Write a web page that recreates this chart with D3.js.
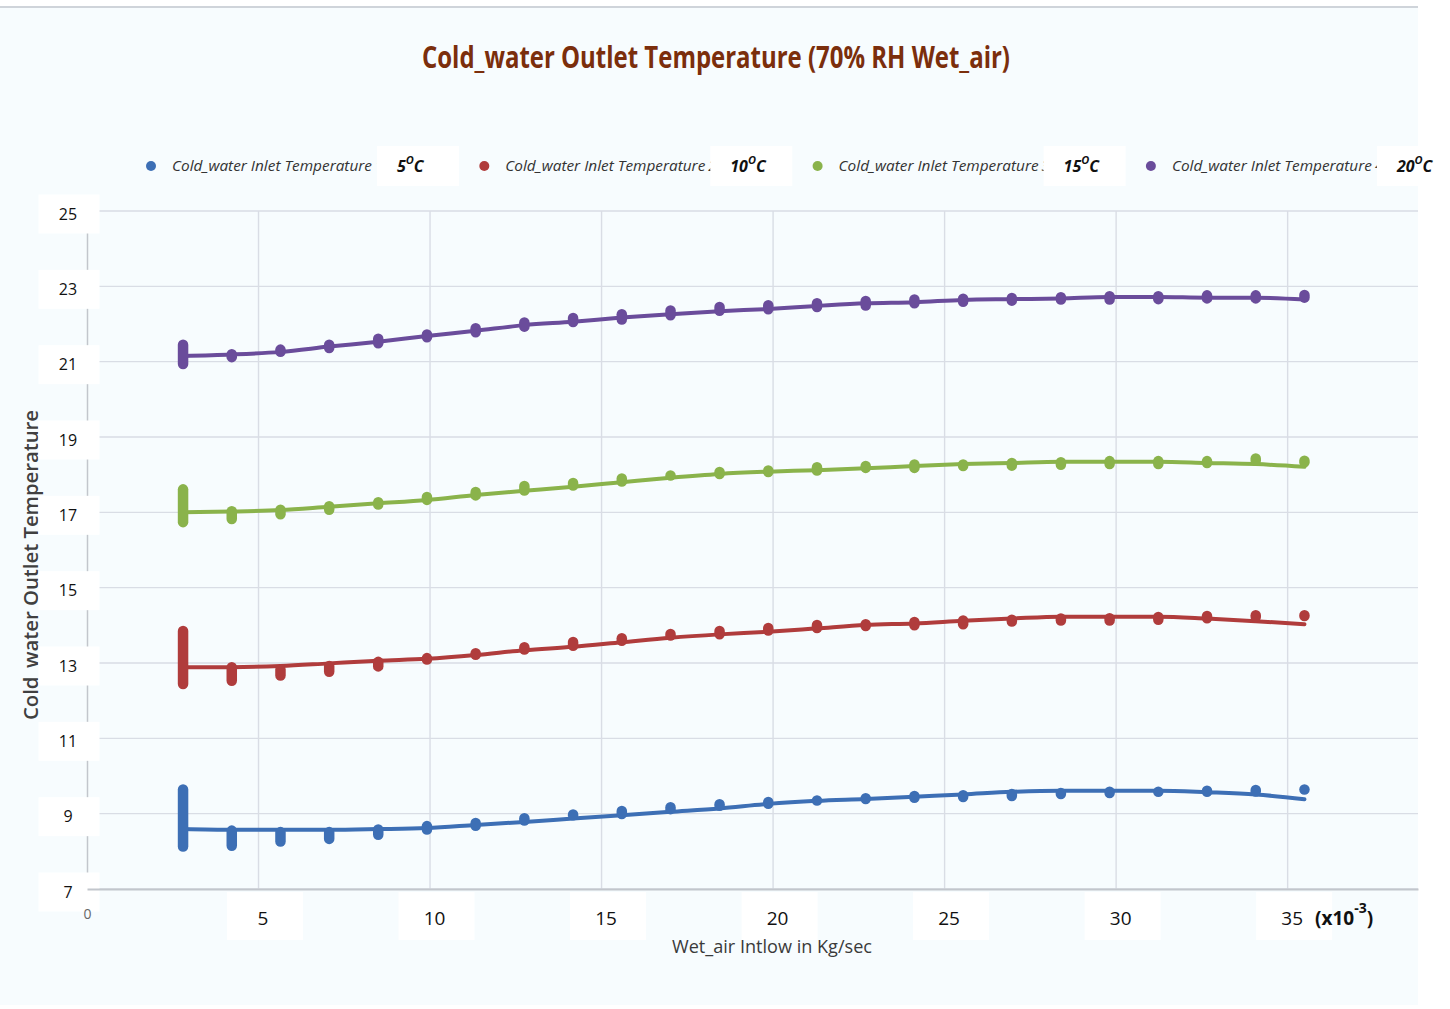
<!DOCTYPE html>
<html>
<head>
<meta charset="utf-8">
<script src="https://cdn.jsdelivr.net/npm/d3@7"></script>
<style>
  html, body { margin: 0; padding: 0; background: #ffffff; }
  svg { display: block; }
</style>
</head>
<body>
<svg id="chart" width="1450" height="1009"></svg>
<script>
// Wet air inflow (x10^-3 kg/s) at each measured step
const flowRate = [2.80, 4.22, 5.64, 7.06, 8.49, 9.91, 11.33, 12.75, 14.17, 15.59, 17.01, 18.44,
                  19.86, 21.28, 22.70, 24.12, 25.54, 26.96, 28.39, 29.81, 31.23, 32.65, 34.07, 35.49];

// Cold water inlet temperatures (°C), one series each
const inletTemps = ["5", "10", "15", "20"];

// Outlet temperature trend (°C) and the spread of recorded readings at each step
const outlet5Trend = [8.59, 8.57, 8.57, 8.57, 8.59, 8.62, 8.70, 8.78, 8.87, 8.96, 9.05, 9.14,
                      9.26, 9.34, 9.39, 9.45, 9.51, 9.58, 9.61, 9.61, 9.61, 9.57, 9.51, 9.38];
const outlet5High  = [9.64, 8.55, 8.51, 8.51, 8.58, 8.67, 8.75, 8.88, 8.98, 9.07, 9.17, 9.25,
                      9.31, 9.35, 9.41, 9.47, 9.49, 9.52, 9.55, 9.58, 9.58, 9.61, 9.63, 9.64];
const outlet5Low   = [8.13, 8.15, 8.26, 8.33, 8.44, 8.58, 8.68, 8.82, 8.96, 8.99, 9.12, 9.21,
                      9.26, 9.35, 9.39, 9.42, 9.44, 9.47, 9.52, 9.55, 9.58, 9.58, 9.59, 9.64];

const outlet10Trend = [12.89, 12.89, 12.92, 12.99, 13.06, 13.11, 13.21, 13.34, 13.43, 13.55, 13.67, 13.76,
                       13.83, 13.92, 14.01, 14.05, 14.12, 14.18, 14.23, 14.23, 14.23, 14.18, 14.11, 14.03];
const outlet10High  = [13.85, 12.89, 12.83, 12.92, 13.03, 13.13, 13.26, 13.42, 13.56, 13.66, 13.77, 13.85,
                       13.93, 14.01, 14.03, 14.09, 14.13, 14.15, 14.18, 14.19, 14.22, 14.25, 14.27, 14.27];
const outlet10Low   = [12.44, 12.53, 12.67, 12.77, 12.91, 13.09, 13.22, 13.36, 13.46, 13.59, 13.73, 13.76,
                       13.86, 13.93, 13.98, 14.00, 14.03, 14.10, 14.13, 14.13, 14.15, 14.19, 14.22, 14.25];

const outlet15Trend = [17.00, 17.02, 17.06, 17.15, 17.24, 17.33, 17.46, 17.57, 17.68, 17.80, 17.92, 18.02,
                       18.08, 18.12, 18.17, 18.23, 18.28, 18.31, 18.34, 18.34, 18.34, 18.31, 18.28, 18.21];
const outlet15High  = [17.61, 17.03, 17.07, 17.16, 17.27, 17.41, 17.54, 17.70, 17.78, 17.90, 17.98, 18.07,
                       18.11, 18.20, 18.23, 18.27, 18.27, 18.31, 18.33, 18.36, 18.36, 18.36, 18.43, 18.37];
const outlet15Low   = [16.74, 16.82, 16.95, 17.07, 17.21, 17.33, 17.45, 17.58, 17.71, 17.82, 17.98, 18.02,
                       18.07, 18.11, 18.18, 18.18, 18.23, 18.24, 18.26, 18.28, 18.28, 18.31, 18.37, 18.33];

const outlet20Trend = [21.15, 21.19, 21.26, 21.40, 21.53, 21.68, 21.82, 21.97, 22.06, 22.17, 22.26, 22.34,
                       22.40, 22.48, 22.55, 22.58, 22.64, 22.66, 22.68, 22.72, 22.72, 22.70, 22.70, 22.65];
const outlet20High  = [21.45, 21.20, 21.32, 21.45, 21.61, 21.72, 21.89, 22.04, 22.16, 22.26, 22.36, 22.45,
                       22.50, 22.55, 22.61, 22.65, 22.67, 22.69, 22.71, 22.74, 22.74, 22.76, 22.76, 22.77];
const outlet20Low   = [20.94, 21.12, 21.26, 21.36, 21.49, 21.65, 21.78, 21.93, 22.05, 22.12, 22.23, 22.35,
                       22.39, 22.45, 22.49, 22.55, 22.59, 22.62, 22.65, 22.65, 22.66, 22.68, 22.68, 22.70];

// Axis ticks
const yTicks = [7, 9, 11, 13, 15, 17, 19, 21, 23, 25];
const xTicks = [0, 5, 10, 15, 20, 25, 30, 35];

const legendName = "Cold_water Inlet Temperature";
const chartTitle = "Cold_water Outlet Temperature (70% RH Wet_air)";
const xTitle = "Wet_air Intlow in Kg/sec";
const yTitle = "Cold_water Outlet Temperature";

const palette = ["#3d6fb5", "#b03c3c", "#8ab34b", "#6a4c9b"];

const series = [
  { temp: inletTemps[0], trend: outlet5Trend,  high: outlet5High,  low: outlet5Low },
  { temp: inletTemps[1], trend: outlet10Trend, high: outlet10High, low: outlet10Low },
  { temp: inletTemps[2], trend: outlet15Trend, high: outlet15High, low: outlet15Low },
  { temp: inletTemps[3], trend: outlet20Trend, high: outlet20High, low: outlet20Low }
].map((s, i) => ({ ...s, color: palette[i] }));

const W = 1450, H = 1009;
const plot = { left: 87, right: 1418, top: 211, bottom: 889 };
const narrow = "'Liberation Sans Narrow', 'Arial Narrow', 'Open Sans', sans-serif";
const sans = "'Open Sans', 'Noto Sans', sans-serif";

const svg = d3.select("#chart");

const x = d3.scaleLinear().domain([0, 38.8]).range([plot.left, plot.right]);
const y = d3.scaleLinear().domain([7, 25]).range([plot.bottom, plot.top]);

// Chart area
svg.append("rect").attr("width", W).attr("height", H).attr("fill", "#ffffff");
svg.append("rect").attr("x", 0).attr("y", 7).attr("width", plot.right).attr("height", H - 11)
  .attr("fill", "#f7fcfe");
svg.append("line").attr("x1", 0).attr("x2", plot.right).attr("y1", 7).attr("y2", 7)
  .attr("stroke", "#cfd4da").attr("stroke-width", 2);

// Title
svg.append("text")
  .attr("x", 422).attr("y", 68)
  .attr("font-family", narrow).attr("font-weight", "bold").attr("font-size", 30)
  .attr("fill", "#7b2e0c")
  .attr("textLength", 588).attr("lengthAdjust", "spacingAndGlyphs")
  .text(chartTitle);

// Gridlines
const grid = svg.append("g").attr("stroke", "#d9dde5").attr("stroke-width", 1.4);
grid.selectAll("line.h").data(yTicks).join("line").attr("class", "h")
  .attr("x1", plot.left).attr("x2", plot.right)
  .attr("y1", d => y(d)).attr("y2", d => y(d));
grid.selectAll("line.v").data(xTicks.filter(d => d > 0)).join("line").attr("class", "v")
  .attr("x1", d => x(d)).attr("x2", d => x(d))
  .attr("y1", plot.top).attr("y2", plot.bottom);

// Y axis title (drawn under the label boxes)
svg.append("text")
  .attr("transform", `translate(37.5,720) rotate(-90)`)
  .attr("font-family", sans).attr("font-weight", 600).attr("font-size", 19)
  .attr("fill", "#404040")
  .attr("textLength", 310).attr("lengthAdjust", "spacingAndGlyphs")
  .text(yTitle);

// Y axis
const yAxis = svg.append("g")
  .attr("transform", `translate(${plot.left},0)`)
  .call(d3.axisLeft(y).tickValues(yTicks).tickSize(0).tickPadding(0));
yAxis.select(".domain").attr("stroke", "#c2c6cc").attr("stroke-width", 1.5);
yAxis.selectAll(".tick").insert("rect", "text")
  .attr("x", -48.5).attr("y", -17).attr("width", 61).attr("height", 39)
  .attr("fill", "#ffffff");
yAxis.selectAll(".tick text")
  .attr("x", -19).attr("dy", "0.52em").attr("text-anchor", "middle")
  .attr("font-family", sans).attr("font-size", 16).attr("fill", "#111");

// X axis
const xAxis = svg.append("g")
  .attr("transform", `translate(0,${plot.bottom})`)
  .call(d3.axisBottom(x).tickValues(xTicks).tickSize(0).tickPadding(0));
xAxis.select(".domain").attr("stroke", "#c2c6cc").attr("stroke-width", 2);
xAxis.selectAll(".tick").filter(d => d > 0).insert("rect", "text")
  .attr("x", -32).attr("y", 3).attr("width", 76).attr("height", 48)
  .attr("fill", "#ffffff");
xAxis.selectAll(".tick text")
  .attr("dy", null)
  .attr("x", d => d > 0 ? 4 : 0)
  .attr("y", d => d > 0 ? 36 : 30)
  .attr("font-family", sans)
  .attr("font-size", d => d > 0 ? 19 : 14)
  .attr("fill", d => d > 0 ? "#111" : "#666");

// Scale multiplier after the last tick
const mult = svg.append("text")
  .attr("x", 1315).attr("y", 925)
  .attr("font-family", sans).attr("font-weight", "bold").attr("font-size", 19).attr("fill", "#111");
mult.append("tspan").text("(x10");
mult.append("tspan").attr("dy", -12).attr("font-size", 14).text("-3");
mult.append("tspan").attr("dy", 12).text(")");

// X axis title
svg.append("text")
  .attr("x", 672).attr("y", 953)
  .attr("font-family", narrow).attr("font-size", 19).attr("fill", "#3a3a3a")
  .attr("textLength", 200).attr("lengthAdjust", "spacingAndGlyphs")
  .text(xTitle);

// Series: smoothed trend line plus reading-spread markers
const trendLine = d3.line()
  .x((d, i) => x(flowRate[i]))
  .y(d => y(d))
  .curve(d3.curveMonotoneX);

const markerW = 10.5;
const layers = svg.append("g").selectAll("g").data(series).join("g");
layers.append("path")
  .attr("d", d => trendLine(d.trend))
  .attr("fill", "none").attr("stroke", d => d.color)
  .attr("stroke-width", 4).attr("stroke-linejoin", "round").attr("stroke-linecap", "round");
layers.each(function (s) {
  d3.select(this).selectAll("rect").data(flowRate).join("rect")
    .attr("x", d => x(d) - markerW / 2)
    .attr("y", (d, i) => y(s.high[i]) - markerW / 2)
    .attr("width", markerW)
    .attr("height", (d, i) => y(s.low[i]) - y(s.high[i]) + markerW)
    .attr("rx", markerW / 2)
    .attr("fill", s.color);
});

// Legend
const legend = svg.append("g").selectAll("g").data(series).join("g")
  .attr("transform", (d, i) => `translate(${151 + i * 333.3},166)`);
legend.append("circle").attr("r", 5).attr("fill", d => d.color);
legend.append("text")
  .attr("x", 21).attr("y", 5)
  .attr("font-family", narrow).attr("font-style", "italic").attr("font-size", 15).attr("fill", "#333")
  .attr("textLength", 200).attr("lengthAdjust", "spacingAndGlyphs")
  .text(legendName);
legend.append("text")
  .attr("x", 224).attr("y", 5)
  .attr("font-family", narrow).attr("font-style", "italic").attr("font-size", 15).attr("fill", "#333")
  .text((d, i) => i + 1);
legend.append("rect")
  .attr("x", 226).attr("y", -20).attr("width", 82).attr("height", 40)
  .attr("fill", "#ffffff");
const tempLabel = legend.append("text")
  .attr("x", 246).attr("y", 6)
  .attr("font-family", sans).attr("font-weight", "bold").attr("font-style", "italic")
  .attr("font-size", 16).attr("fill", "#111");
tempLabel.append("tspan").text(d => d.temp);
tempLabel.append("tspan").attr("dy", -8).attr("font-size", 11).text("O");
tempLabel.append("tspan").attr("dy", 8).text("C");
</script>
</body>
</html>
